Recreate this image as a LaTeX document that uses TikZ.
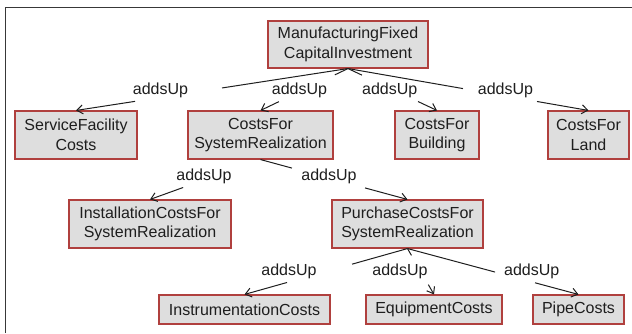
\documentclass[tikz,border=0pt]{standalone}
\usepackage{fontspec}
\newfontfamily\diafont{Liberation Sans}
\usetikzlibrary{arrows.meta,calc}
\definecolor{boxfill}{HTML}{DEDEDE}
\definecolor{boxline}{HTML}{B0403E}
\definecolor{inkc}{HTML}{1E1E1E}
\definecolor{framec}{HTML}{383838}
\newcommand\myedge[4]{%
  \draw[edgeline] (#1.south) -- ($(#1.south)!#3!(#2.north)$);
  \draw[edgeline,-{Straight Barb[length=6pt,width=9pt]}] ($(#1.south)!#4!(#2.north)$) -- (#2.north);}
\begin{document}
\begin{tikzpicture}[x=1pt,y=-1pt,
  box/.style={draw=boxline, fill=boxfill, line width=1.1pt, inner sep=0pt,
    align=center, text=inkc, font=\diafont\fontsize{16}{19.5}\selectfont},
  lbl/.style={inner sep=0pt, text=inkc, font=\diafont\fontsize{16}{19.5}\selectfont},
  edgeline/.style={draw=inkc, line width=1pt}]
\useasboundingbox (0,0) rectangle (632,333);
% frame
\draw[framec, line width=1.5pt] (5.5,333) -- (5.5,7.5) -- (632,7.5);
% nodes
\node[box, minimum width=160pt, minimum height=47pt] (top) at (348,44.5) {ManufacturingFixed\\CapitalInvestment};
\node[box, minimum width=122pt, minimum height=48pt] (sf) at (76,135) {ServiceFacility\\Costs};
\node[box, minimum width=145pt, minimum height=48pt] (csr) at (260.5,135) {CostsFor\\SystemRealization};
\node[box, minimum width=84pt, minimum height=48pt] (cb) at (437,135) {CostsFor\\Building};
\node[box, minimum width=81pt, minimum height=48pt] (cl) at (588.5,135) {CostsFor\\Land};
\node[box, minimum width=162pt, minimum height=48pt] (inst) at (150,224) {InstallationCostsFor\\SystemRealization};
\node[box, minimum width=151pt, minimum height=48pt] (pur) at (407.5,224) {PurchaseCostsFor\\SystemRealization};
\node[box, minimum width=171pt, minimum height=29pt] (instr) at (244.5,309.5) {InstrumentationCosts};
\node[box, minimum width=136pt, minimum height=29pt] (eq) at (434,309.5) {EquipmentCosts};
\node[box, minimum width=91pt, minimum height=29pt] (pipe) at (578.5,309.5) {PipeCosts};
% edges
\myedge{top}{sf}{0.463}{0.783}
\myedge{top}{csr}{0.15}{0.79}
\myedge{top}{cb}{0.157}{0.787}
\myedge{top}{cl}{0.478}{0.786}
\draw[edgeline,-{Straight Barb[length=6pt,width=9pt]}] ($(csr.south)!0.70!(inst.north)$) -- (inst.north);
\myedge{csr}{pur}{0.214}{0.711}
\myedge{pur}{instr}{0.34}{0.739}
\myedge{pur}{eq}{0.149}{0.787}
\myedge{pur}{pipe}{0.512}{0.746}
% labels
\node[lbl] (l1) at (160.5,90.5) {addsUp};
\node[lbl] (l2) at (299.5,90.5) {addsUp};
\node[lbl] (l3) at (389.7,90.5) {addsUp};
\node[lbl] (l4) at (505.5,90.5) {addsUp};
\node[lbl] (l5) at (204,176.7) {addsUp};
\node[lbl] (l6) at (329,176.7) {addsUp};
\node[lbl] (l7) at (289,271.7) {addsUp};
\node[lbl] (l8) at (400,271.7) {addsUp};
\node[lbl] (l9) at (531.7,271.7) {addsUp};
\end{tikzpicture}
\end{document}
